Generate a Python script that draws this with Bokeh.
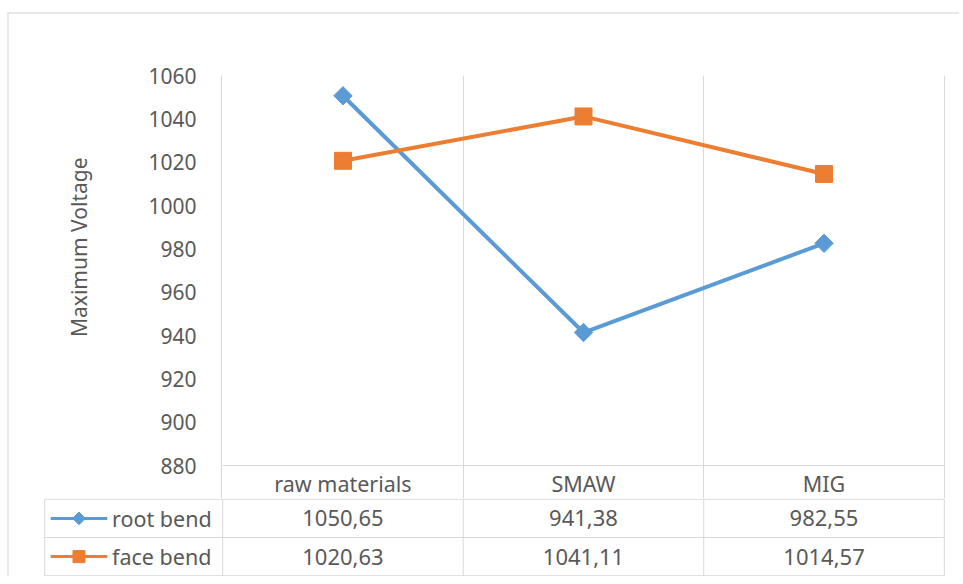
import math
from bokeh.plotting import figure
from bokeh.models import Range1d, FixedTicker, Title
from bokeh.embed import file_html
from bokeh.resources import INLINE
from bokeh.core.properties import value

# ---- data ----
categories = ["raw materials", "SMAW", "MIG"]
series_names = ["root bend", "face bend"]
root_bend = [1050.65, 941.38, 982.55]
face_bend = [1020.63, 1041.11, 1014.57]
y_ticks = [880, 900, 920, 940, 960, 980, 1000, 1020, 1040, 1060]
y_label = "Maximum Voltage"

# ---- style ----
FONT = "Noto Sans"
TXT = "#595959"
GRID = "#d9d9d9"
FRAME = "#e8e8e8"
BLUE = "#5B9BD5"
ORANGE = "#ED7D31"

n = len(categories)
xs = [i + 0.5 for i in range(n)]
LEG = 0.74      # legend column width (in category units)
PAD = 0.005
W = 952
HEAD = 16.15    # header row height, in y-axis units

def fmt(v):
    return f"{v:.2f}".replace(".", ",")

# ---- chart ----
top = figure(width=W, height=486, x_range=Range1d(-PAD, n + PAD),
             y_range=Range1d(y_ticks[0] - HEAD, y_ticks[-1]),
             output_backend="svg", toolbar_location=None,
             min_border_left=212, min_border_right=16,
             min_border_top=61, min_border_bottom=0,
             styles={"margin-left": "7px", "margin-top": "12px",
                     "border-top": f"2px solid {FRAME}",
                     "border-left": f"2px solid {FRAME}"})
top.outline_line_color = None
top.xaxis.visible = False
top.ygrid.grid_line_color = None
top.xgrid.ticker = FixedTicker(ticks=list(range(1, n + 1)))
top.xgrid.grid_line_color = GRID
top.xgrid.grid_line_width = 1

ax = top.yaxis[0]
ax.ticker = FixedTicker(ticks=y_ticks)
ax.major_tick_line_color = None
ax.minor_tick_line_color = None
ax.axis_line_color = GRID
ax.major_label_standoff = 19
ax.major_label_text_font = FONT
ax.major_label_text_font_size = "21px"
ax.major_label_text_color = TXT

top.add_layout(Title(text=y_label, align="right", vertical_align="middle",
                     offset=82, standoff=103,
                     text_font=FONT, text_font_size="21px", text_color=TXT,
                     text_font_style="normal"), "left")

# bottom line of plot area = top border of the header row
top.segment(x0=[0], y0=[y_ticks[0]], x1=[n], y1=[y_ticks[0]],
            line_color=GRID, line_width=1)
top.text(x=xs, y=[y_ticks[0] - HEAD / 2] * n, text=categories,
         text_font=value(FONT), text_font_size="21.5px", text_color=TXT,
         text_align="center", text_baseline="middle")

top.line(xs, root_bend, color=BLUE, line_width=4)
top.scatter(xs, root_bend, marker="square", angle=math.pi / 4, size=13, color=BLUE)
top.line(xs, face_bend, color=ORANGE, line_width=4)
top.scatter(xs, face_bend, marker="square", size=17, color=ORANGE)

# ---- data table rows ----
rows = len(series_names)
bot = figure(width=W, height=78, x_range=Range1d(-LEG - PAD, n + PAD),
             y_range=Range1d(-0.02, rows + 0.02),
             output_backend="svg", toolbar_location=None,
             min_border_left=34, min_border_right=16,
             min_border_top=0, min_border_bottom=0,
             styles={"margin-left": "7px",
                     "border-left": f"2px solid {FRAME}"})
bot.outline_line_color = None
bot.axis.visible = False
bot.grid.visible = False

ys = list(range(rows, -1, -1))
bot.segment(x0=[-LEG] * (rows + 1), y0=ys, x1=[n] * (rows + 1), y1=ys,
            line_color=GRID, line_width=1)
vx = [-LEG] + list(range(n + 1))
bot.segment(x0=vx, y0=[0] * len(vx), x1=vx, y1=[rows] * len(vx),
            line_color=GRID, line_width=1)

colors = [BLUE, ORANGE]
m_kw = [dict(marker="square", angle=math.pi / 4, size=9),
        dict(marker="square", size=12)]
for r, (name, vals) in enumerate(zip(series_names, [root_bend, face_bend])):
    yc = rows - r - 0.5
    bot.text(x=xs, y=[yc] * n, text=[fmt(v) for v in vals],
             text_font=value(FONT), text_font_size="22px", text_color=TXT,
             text_align="center", text_baseline="middle")
    bot.line([-LEG + 0.025, -LEG + 0.26], [yc, yc], color=colors[r], line_width=3)
    bot.scatter([-LEG + 0.1425], [yc], color=colors[r], **m_kw[r])
    bot.text(x=[-LEG + 0.28], y=[yc], text=[name],
             text_font=value(FONT), text_font_size="21.5px", text_color=TXT,
             text_align="left", text_baseline="middle")

open("out.html", "w").write(file_html([top, bot], INLINE))
